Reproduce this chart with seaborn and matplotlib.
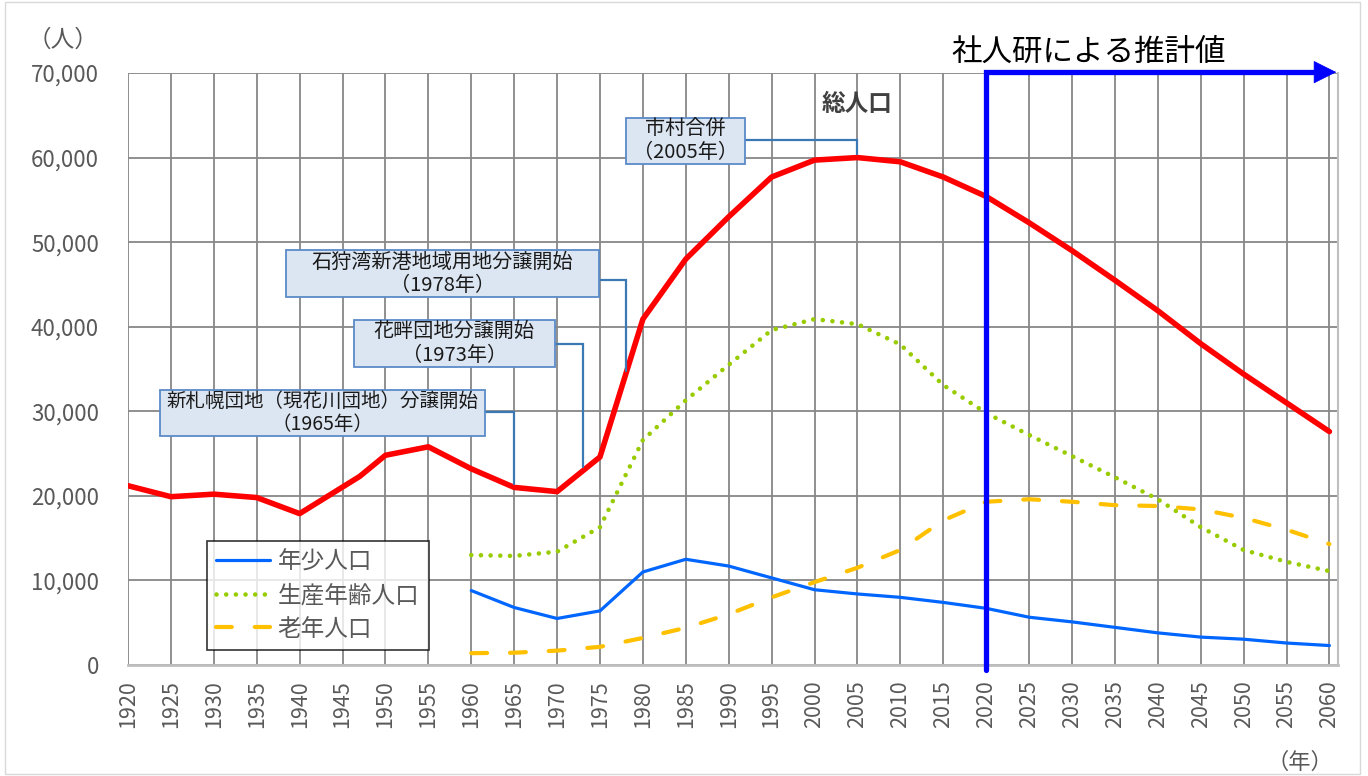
import numpy as np
import pandas as pd
import matplotlib
matplotlib.use("Agg")
import matplotlib.pyplot as plt
import seaborn as sns
from matplotlib.patches import Rectangle

sns.set_theme(style="white")
plt.rcParams['font.family'] = ['Noto Sans CJK JP', 'DejaVu Sans']

# ---------------- data ----------------
total_years = [1920, 1925, 1930, 1935, 1940, 1947, 1950, 1955, 1960, 1965, 1970, 1975,
               1980, 1985, 1990, 1995, 2000, 2005, 2010, 2015, 2020, 2025, 2030, 2035,
               2040, 2045, 2050, 2055, 2060]
total_pop = [21200, 19900, 20200, 19800, 17900, 22300, 24800, 25800, 23200, 21000, 20500, 24600,
             40900, 48000, 53000, 57700, 59700, 60000, 59500, 57700, 55400, 52300, 49000, 45500,
             41900, 38000, 34400, 31000, 27600]

age_years = [1960, 1965, 1970, 1975, 1980, 1985, 1990, 1995, 2000, 2005, 2010, 2015,
             2020, 2025, 2030, 2035, 2040, 2045, 2050, 2055, 2060]
young = [8800, 6800, 5500, 6400, 11000, 12500, 11700, 10300, 8900, 8400, 8000, 7400,
         6700, 5650, 5100, 4450, 3800, 3300, 3050, 2600, 2300]
working = [13000, 12900, 13400, 16300, 26600, 31300, 35500, 39600, 40900, 40300, 37900, 33100,
           29800, 27200, 24700, 22200, 19600, 16300, 13600, 12200, 11100]
elderly = [1400, 1450, 1700, 2150, 3200, 4400, 6000, 8000, 9800, 11500, 13600, 17100,
           19300, 19600, 19300, 18900, 18800, 18400, 17400, 16000, 14300]

series_labels = ["年少人口", "生産年齢人口", "老年人口"]
total_label = "総人口"
projection_start = 2020
projection_label = "社人研による推計値"

event_years = [1965, 1973, 1978, 2005]
event_labels = ["新札幌団地（現花川団地）分譲開始\n（1965年）",
                "花畔団地分譲開始\n（1973年）",
                "石狩湾新港地域用地分譲開始\n（1978年）",
                "市村合併\n（2005年）"]

x_ticks = list(range(1920, 2061, 5))
y_ticks = list(range(0, 70001, 10000))

# ---------------- layout (styling / placement) ----------------
event_boxes = [(1923.7, 1961.6, 27070, 32500),
               (1946.3, 1969.7, 35220, 40780),
               (1938.4, 1974.9, 43500, 49050),
               (1978.0, 1991.9, 59220, 64660)]
event_conn_y = [29900, 37940, 45500, 62060]
event_font = [14, 14.5, 14.5, 14.5]

fig = plt.figure(figsize=(13.68, 7.76), dpi=100)
fig.patch.set_facecolor("white")
ax = fig.add_axes([0.09357, 0.14304, 0.8845, 0.76289])

tick_color = "#595959"

df_total = pd.DataFrame({"year": total_years, "pop": total_pop})
df_age = pd.DataFrame({"year": age_years, "young": young, "working": working, "elderly": elderly})

sns.lineplot(data=df_total, x="year", y="pop", ax=ax, color="#FF0000", lw=4.0,
             estimator=None, sort=False, solid_joinstyle="round", solid_capstyle="round", zorder=3)
sns.lineplot(data=df_age, x="year", y="young", ax=ax, color="#0066FF", lw=2.3,
             estimator=None, sort=False, label=series_labels[0], solid_joinstyle="round", zorder=3)
sns.lineplot(data=df_age, x="year", y="working", ax=ax, color="#99CC00", lw=3.3,
             estimator=None, sort=False, label=series_labels[1],
             linestyle=(0, (0.01, 2.1)), dash_capstyle="round", zorder=3)
sns.lineplot(data=df_age, x="year", y="elderly", ax=ax, color="#FFC000", lw=3.0,
             estimator=None, sort=False, label=series_labels[2],
             linestyle=(0, (3.8, 5.5)), dash_capstyle="round", zorder=3)

ax.set_xlim(1920, 2061)
ax.set_ylim(0, 70000)
ax.set_xticks(x_ticks)
ax.set_xticklabels([str(v) for v in x_ticks], rotation=90, fontsize=15.5, color=tick_color)
ax.set_yticks(y_ticks)
ax.set_yticklabels([f"{v:,}" for v in y_ticks], fontsize=16, color=tick_color)
ax.tick_params(axis="x", length=0, pad=11)
ax.tick_params(axis="y", length=0, pad=21)
ax.set_xlabel("")
ax.set_ylabel("")
ax.set_axisbelow(True)
ax.grid(True, color="#878787", lw=1.3)
for s in ["top", "left"]:
    ax.spines[s].set_visible(False)
ax.spines["bottom"].set_color("#BFBFBF")
ax.spines["bottom"].set_linewidth(2)
ax.spines["right"].set_color("#BFBFBF")
ax.spines["right"].set_linewidth(1.5)

# event annotations
for yr, lab, (x0, x1, y0, y1), cy, fs in zip(event_years, event_labels, event_boxes,
                                              event_conn_y, event_font):
    end_y = float(np.interp(yr, total_years, total_pop)) + 400
    ax.plot([(x0 + x1) / 2, yr, yr], [cy, cy, end_y], color="#3C78B4", lw=1.6, zorder=4,
            solid_joinstyle="miter")
    ax.add_patch(Rectangle((x0, y0), x1 - x0, y1 - y0, facecolor="#DCE6F2",
                           edgecolor="#5B8BC8", lw=1.3, zorder=5))
    ax.text((x0 + x1) / 2, (y0 + y1) / 2, lab, ha="center", va="center", fontsize=fs,
            color="#1A1A1A", linespacing=1.15, zorder=6)

ax.text(2005, 66300, total_label, ha="center", va="center", fontsize=17, color="#404040",
        fontweight="semibold", zorder=6)

# projection arrow
ax.plot([projection_start, projection_start, 2059.2], [-600, 70100, 70100], color="#0000FF",
        lw=3.8, clip_on=False, solid_joinstyle="miter", zorder=7)
ax.annotate("", xy=(2060.8, 70100), xytext=(2058.5, 70100),
            arrowprops=dict(arrowstyle="-|>,head_length=0.7,head_width=0.35", color="#0000FF",
                            lw=0.5, shrinkA=0, shrinkB=0, mutation_scale=22),
            annotation_clip=False, zorder=7)
fig.text(0.796, 0.933, projection_label, ha="center", va="center", fontsize=22, color="black")

fig.text(0.046, 0.948, "（人）", ha="center", va="center", fontsize=17, color=tick_color)
fig.text(0.950, 0.018, "（年）", ha="center", va="center", fontsize=16, color=tick_color)

handles, labels = ax.get_legend_handles_labels()
leg = ax.legend(handles, labels, loc="lower left", bbox_to_anchor=(0.065, 0.025),
                borderaxespad=0, fontsize=17, frameon=True, fancybox=False,
                handlelength=2.3, labelspacing=0.45, borderpad=0.4, handletextpad=0.3)
leg.get_frame().set_edgecolor("black")
leg.get_frame().set_linewidth(1.2)
leg.set_zorder(8)
for t in leg.get_texts():
    t.set_color(tick_color)

fig.add_artist(Rectangle((0.004, 0.002), 0.99, 0.996, transform=fig.transFigure,
                         fill=False, edgecolor="#D9D9D9", lw=1.0))

fig.savefig("out.png", dpi=100)
